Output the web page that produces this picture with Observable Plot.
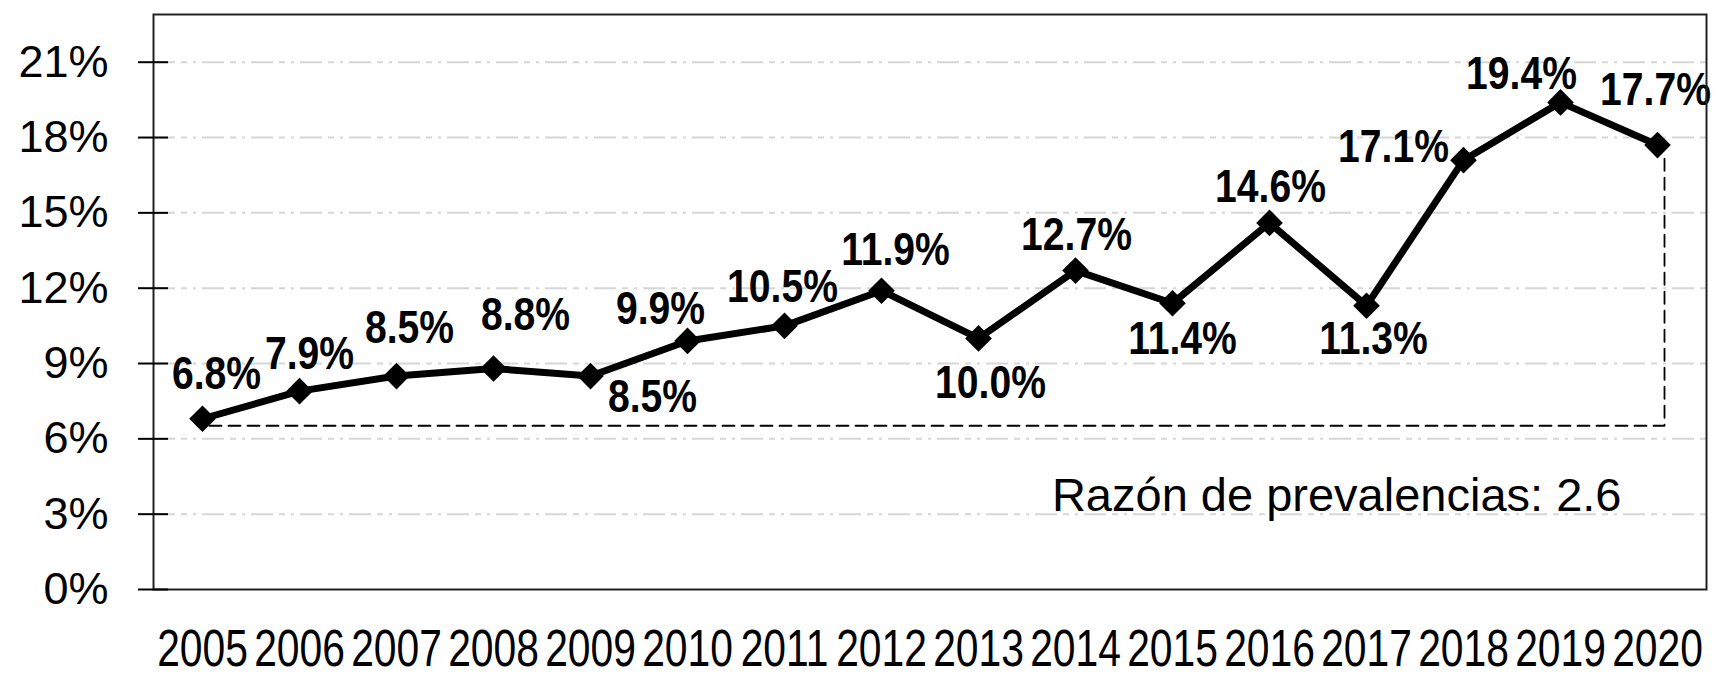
<!DOCTYPE html>
<html>
<head>
<meta charset="utf-8">
<script src="https://cdn.jsdelivr.net/npm/d3@7"></script>
<script src="https://cdn.jsdelivr.net/npm/@observablehq/plot@0.6"></script>
<style>
  html, body { margin: 0; padding: 0; background: #fff; }
  #chart svg { display: block; }
</style>
</head>
<body>
<div id="chart"></div>
<script>
// ---- data ----
const years = ["2005","2006","2007","2008","2009","2010","2011","2012","2013","2014","2015","2016","2017","2018","2019","2020"];
const values = [6.8, 7.9, 8.5, 8.8, 8.5, 9.9, 10.5, 11.9, 10.0, 12.7, 11.4, 14.6, 11.3, 17.1, 19.4, 17.7];
const valueLabels = ["6.8%","7.9%","8.5%","8.8%","8.5%","9.9%","10.5%","11.9%","10.0%","12.7%","11.4%","14.6%","11.3%","17.1%","19.4%","17.7%"];
const yTicks = [0, 3, 6, 9, 12, 15, 18, 21];
const gridTicks = [3, 6, 9, 12, 15, 18, 21];
const annotation = "Razón de prevalencias: 2.6";

// ---- layout (label offsets in px, not data) ----
const labelOffsets = [
  [14,-44],[10,-37],[13,-48],[32,-53],[62,21],[-27,-32],[-2,-39],[14,-40],
  [12,45],[1,-35],[10,36],[1,-36],[7,34],[-70,-13],[-39,-28],[-2,-55]
];

const points = years.map((year, i) => ({year, value: values[i], label: valueLabels[i]}));
const last = years.length - 1;
const ratioPath = [
  {year: years[0], value: values[0]},
  {year: years[last], value: values[0]},
  {year: years[last], value: values[last]}
];

const font = "'Liberation Sans', Arial, sans-serif";

const labelMarks = points.map((p, i) => Plot.text([p], {
  x: "year", y: "value", text: "label",
  dx: labelOffsets[i][0], dy: labelOffsets[i][1],
  fontFamily: font, fontWeight: "bold", fontSize: 46, fill: "#000",
  textAnchor: "middle", lineAnchor: "middle"
}));

const chart = Plot.plot({
  width: 1716,
  height: 676,
  marginLeft: 153,
  marginRight: 10,
  marginTop: 14,
  marginBottom: 87,
  style: {fontFamily: font, background: "#fff", color: "#000", overflow: "visible"},
  x: {type: "point", domain: years, padding: 0.5, label: null},
  y: {domain: [0, 22.9], label: null},
  marks: [
    Plot.gridY(gridTicks, {stroke: "#d6d6d6", strokeOpacity: 1, strokeWidth: 2, strokeDasharray: "22,6,6,6,3,6"}),
    Plot.line(ratioPath, {x: "year", y: "value", stroke: "#000", strokeWidth: 1.8, strokeDasharray: "12,7", dx: 7, dy: 7}),
    Plot.line(points, {x: "year", y: "value", stroke: "#000", strokeWidth: 7, strokeLinejoin: "miter"}),
    Plot.dot(points, {x: "year", y: "value", symbol: "diamond2", r: 12, fill: "#000", stroke: "none"}),
    ...labelMarks,
    Plot.text([annotation], {frameAnchor: "bottom-right", text: d => d, dx: -85, dy: -94,
      textAnchor: "end", lineAnchor: "middle", fontSize: 47, fill: "#000"}),
    Plot.frame({stroke: "#222", strokeWidth: 2}),
    Plot.axisY(yTicks, {tickSize: 30, dx: 15, tickFormat: () => "", stroke: "#000", strokeWidth: 2}),
    Plot.axisY(yTicks, {tickSize: 0, tickPadding: 45, tickFormat: d => d + "%", fontSize: 45, fill: "#000"}),
    Plot.axisX({tickSize: 0, tickPadding: 40, fontSize: 51, fill: "#000"})
  ]
});
document.getElementById("chart").appendChild(chart);

// condense the narrow-font texts (no narrow font installed): horizontal scale about the anchor
function squeeze(el, s) {
  const x = +el.getAttribute("x") || 0;
  const t = el.getAttribute("transform") || "";
  el.setAttribute("transform", `${t} translate(${x},0) scale(${s},1) translate(${-x},0)`.trim());
}
d3.select(chart).selectAll('g[aria-label="x-axis tick label"] text').each(function() {
  squeeze(this, 0.80);
});
d3.select(chart).selectAll('g[aria-label="text"] text').each(function() {
  if (this.textContent.endsWith("%")) squeeze(this, 0.85);
});
</script>
</body>
</html>
